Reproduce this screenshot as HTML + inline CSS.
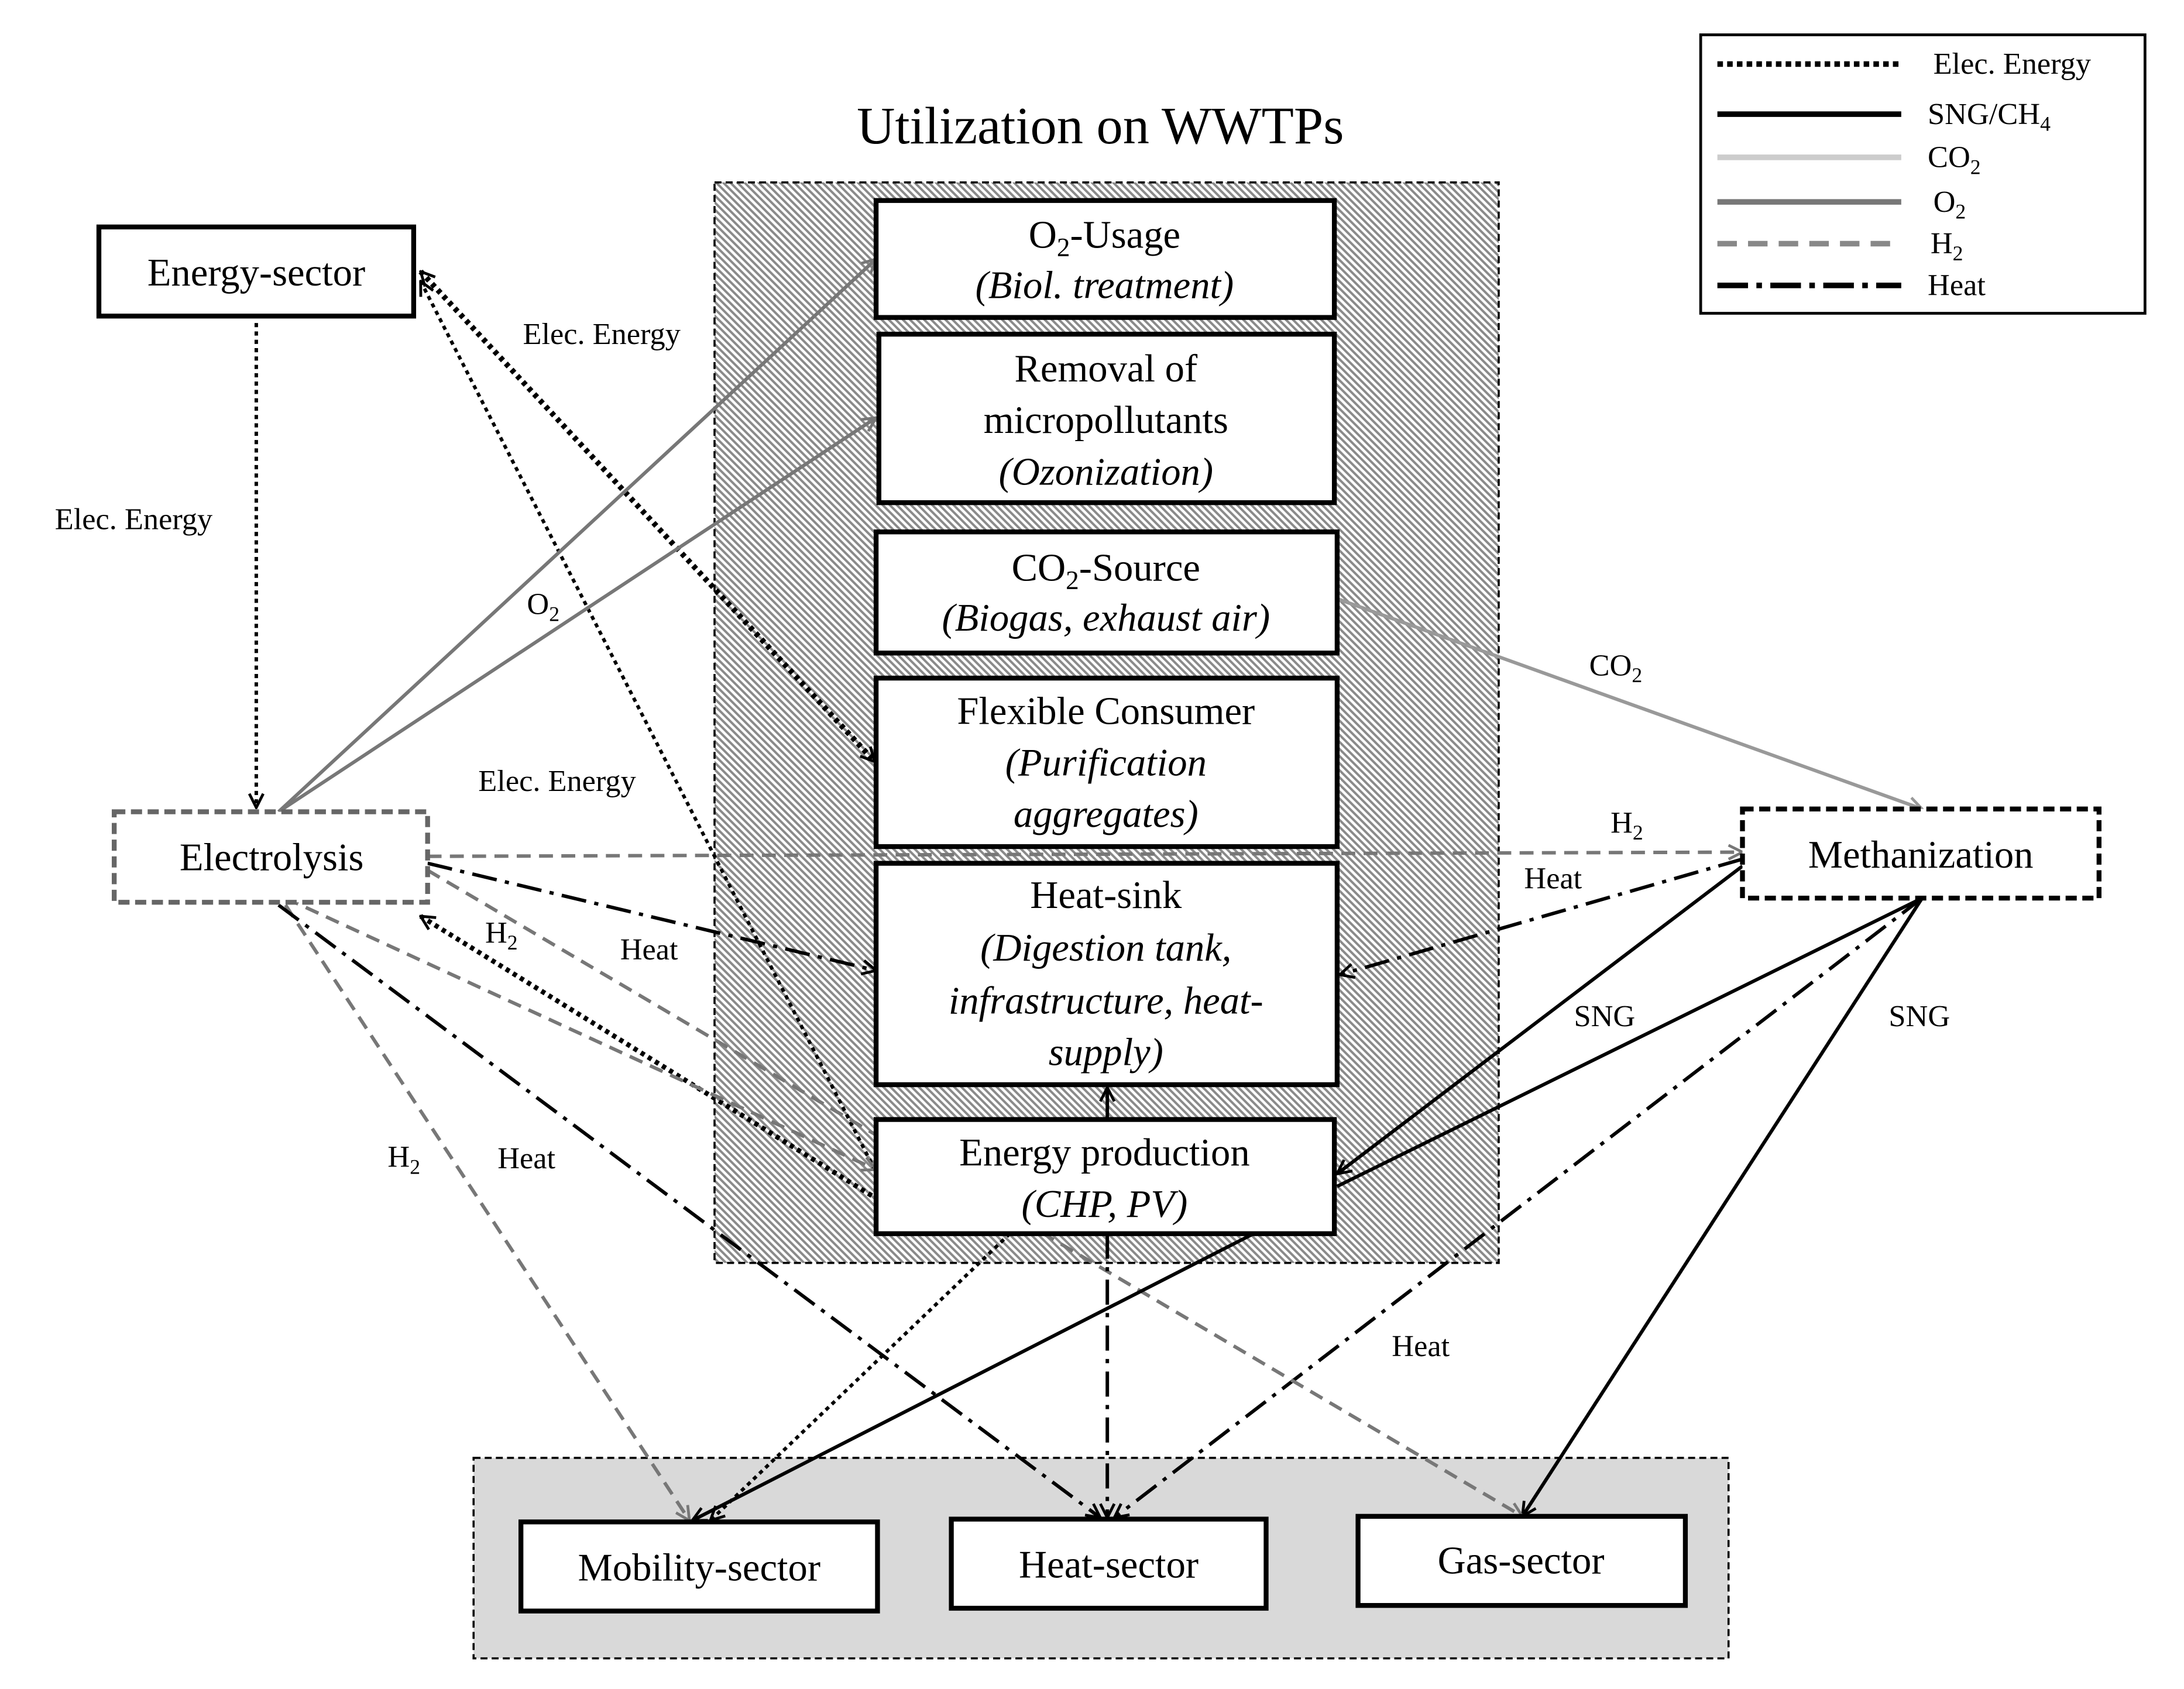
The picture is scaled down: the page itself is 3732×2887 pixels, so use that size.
<!DOCTYPE html>
<html><head><meta charset="utf-8"><style>html,body{margin:0;padding:0;background:#fff}svg{display:block}</style></head><body>
<svg width="3732" height="2887" viewBox="0 0 1568 1213" preserveAspectRatio="none" xmlns="http://www.w3.org/2000/svg" font-family="'Liberation Serif', serif">
<defs>
<pattern id="h" width="3.6" height="3.6" patternUnits="userSpaceOnUse" patternTransform="rotate(-45)">
<rect width="3.6" height="3.6" fill="#fff"/><rect width="1.7" height="3.6" fill="#8a8a8a"/></pattern>
<marker id="ab" viewBox="0 0 12 12" refX="11" refY="6" markerWidth="12" markerHeight="12" markerUnits="userSpaceOnUse" orient="auto-start-reverse"><path d="M1,1 L11,6 L1,11" fill="none" stroke="#000" stroke-width="2"/></marker>
<marker id="ag" viewBox="0 0 12 12" refX="11" refY="6" markerWidth="12" markerHeight="12" markerUnits="userSpaceOnUse" orient="auto-start-reverse"><path d="M1,1 L11,6 L1,11" fill="none" stroke="#777" stroke-width="2"/></marker>
<marker id="al" viewBox="0 0 12 12" refX="11" refY="6" markerWidth="12" markerHeight="12" markerUnits="userSpaceOnUse" orient="auto-start-reverse"><path d="M1,1 L11,6 L1,11" fill="none" stroke="#999" stroke-width="2"/></marker>
</defs>

<text x="790" y="103" font-size="38" text-anchor="middle">Utilization on WWTPs</text>
<rect x="513" y="131" width="563" height="776" fill="url(#h)" stroke="#000" stroke-width="1.5" stroke-dasharray="5,3"/>
<rect x="340" y="1047" width="901" height="144" fill="#d9d9d9" stroke="#000" stroke-width="1.5" stroke-dasharray="5,3"/>

<!-- connectors -->
<g fill="none" stroke-width="2.5">
<line x1="184" y1="232" x2="184" y2="580" stroke="#000" stroke-dasharray="3,3" marker-end="url(#ab)"/>
<line x1="302" y1="195" x2="628" y2="547" stroke="#000" stroke-width="4" stroke-dasharray="3,3" marker-start="url(#ab)" marker-end="url(#ab)"/>
<line x1="302" y1="202" x2="628" y2="840" stroke="#000" stroke-dasharray="3,3" marker-start="url(#ab)"/>
<line x1="302" y1="658" x2="628" y2="860" stroke="#000" stroke-width="3.5" stroke-dasharray="3,3" marker-start="url(#ab)"/>
<line x1="200" y1="583" x2="629" y2="186" stroke="#777" marker-end="url(#ag)"/>
<line x1="200" y1="583" x2="629" y2="300" stroke="#777" marker-end="url(#ag)"/>
<line x1="960" y1="430" x2="1380" y2="581" stroke="#999" marker-end="url(#al)"/>
<line x1="307" y1="615" x2="1251" y2="612" stroke="#777" stroke-dasharray="10,6" marker-end="url(#ag)"/>
<line x1="307" y1="620" x2="629" y2="697" stroke="#000" stroke-dasharray="18,6,3,6" marker-end="url(#ab)"/>
<line x1="1251" y1="617" x2="962" y2="700" stroke="#000" stroke-dasharray="18,6,3,6" marker-end="url(#ab)"/>
<line x1="1251" y1="622" x2="960" y2="843" stroke="#000" marker-end="url(#ab)"/>
<line x1="960" y1="852" x2="1380" y2="645" stroke="#000"/>
<line x1="1380" y1="645" x2="1093" y2="1089" stroke="#000" marker-end="url(#ab)"/>
<line x1="1380" y1="645" x2="800" y2="1090" stroke="#000" stroke-dasharray="18,6,3,6" marker-end="url(#ab)"/>
<line x1="205" y1="645" x2="629" y2="840" stroke="#777" stroke-dasharray="10,6" marker-end="url(#ag)"/>
<line x1="307" y1="625" x2="1093" y2="1089" stroke="#777" stroke-dasharray="10,6" marker-end="url(#ag)"/>
<line x1="205" y1="650" x2="495" y2="1092" stroke="#777" stroke-dasharray="10,6" marker-end="url(#ag)"/>
<line x1="200" y1="650" x2="790" y2="1090" stroke="#000" stroke-dasharray="18,6,3,6" marker-end="url(#ab)"/>
<line x1="795" y1="886" x2="795" y2="1090" stroke="#000" stroke-dasharray="18,6,3,6" marker-end="url(#ab)"/>
<line x1="795" y1="804" x2="795" y2="781" stroke="#000" marker-end="url(#ab)"/>
<line x1="900" y1="886" x2="497" y2="1092" stroke="#000" marker-end="url(#ab)"/>
<line x1="725" y1="886" x2="510" y2="1092" stroke="#000" stroke-dasharray="3,3" marker-end="url(#ab)"/>
</g>

<!-- boxes -->
<g fill="#fff" stroke="#000" stroke-width="3.5">
<rect x="629" y="144" width="329" height="84"/>
<rect x="631" y="240" width="327" height="121"/>
<rect x="629" y="382" width="331" height="87"/>
<rect x="629" y="487" width="331" height="121"/>
<rect x="629" y="620" width="331" height="159"/>
<rect x="629" y="804" width="329" height="82"/>
<rect x="71" y="163" width="226" height="64"/>
<rect x="82" y="583" width="225" height="65" stroke="#666" stroke-dasharray="8,4"/>
<rect x="1251" y="581" width="256" height="64" stroke-dasharray="8,4"/>
<rect x="374" y="1093" width="256" height="64"/>
<rect x="683" y="1091" width="226" height="64"/>
<rect x="975" y="1089" width="235" height="64"/>
<rect x="1221" y="25" width="319" height="200" stroke-width="2"/>
</g>

<g font-size="28" text-anchor="middle">
<text x="793" y="178">O<tspan font-size="19" dy="6">2</tspan><tspan dy="-6">-Usage</tspan></text>
<text x="793" y="214" font-style="italic">(Biol. treatment)</text>
<text x="794" y="274">Removal of</text>
<text x="794" y="311">micropollutants</text>
<text x="794" y="348" font-style="italic">(Ozonization)</text>
<text x="794" y="417">CO<tspan font-size="19" dy="6">2</tspan><tspan dy="-6">-Source</tspan></text>
<text x="794" y="453" font-style="italic">(Biogas, exhaust air)</text>
<text x="794" y="520">Flexible Consumer</text>
<text x="794" y="557" font-style="italic">(Purification</text>
<text x="794" y="594" font-style="italic">aggregates)</text>
<text x="794" y="652">Heat-sink</text>
<text x="794" y="690" font-style="italic">(Digestion tank,</text>
<text x="794" y="728" font-style="italic">infrastructure, heat-</text>
<text x="794" y="765" font-style="italic">supply)</text>
<text x="793" y="837">Energy production</text>
<text x="793" y="874" font-style="italic">(CHP, PV)</text>
<text x="184" y="205">Energy-sector</text>
<text x="195" y="625">Electrolysis</text>
<text x="1379" y="623">Methanization</text>
<text x="502" y="1135">Mobility-sector</text>
<text x="796" y="1133">Heat-sector</text>
<text x="1092" y="1130">Gas-sector</text>
</g>

<g font-size="22" text-anchor="middle">
<text x="96" y="380">Elec. Energy</text>
<text x="432" y="247">Elec. Energy</text>
<text x="400" y="568">Elec. Energy</text>
<text x="390" y="441">O<tspan font-size="15" dy="5">2</tspan></text>
<text x="1160" y="485">CO<tspan font-size="15" dy="5">2</tspan></text>
<text x="1168" y="598">H<tspan font-size="15" dy="5">2</tspan></text>
<text x="1115" y="638">Heat</text>
<text x="466" y="689">Heat</text>
<text x="360" y="677">H<tspan font-size="15" dy="5">2</tspan></text>
<text x="1152" y="737">SNG</text>
<text x="1378" y="737">SNG</text>
<text x="290" y="838">H<tspan font-size="15" dy="5">2</tspan></text>
<text x="378" y="839">Heat</text>
<text x="1020" y="974">Heat</text>
</g>

<!-- legend -->
<g stroke-width="4" fill="none">
<line x1="1233" y1="46" x2="1365" y2="46" stroke="#000" stroke-dasharray="4,3"/>
<line x1="1233" y1="82" x2="1365" y2="82" stroke="#000"/>
<line x1="1233" y1="113" x2="1365" y2="113" stroke="#ccc"/>
<line x1="1233" y1="145" x2="1365" y2="145" stroke="#777"/>
<line x1="1233" y1="175" x2="1365" y2="175" stroke="#888" stroke-dasharray="14,8"/>
<line x1="1233" y1="205" x2="1365" y2="205" stroke="#000" stroke-dasharray="22,6,4,6"/>
</g>
<g font-size="22">
<text x="1388" y="53">Elec. Energy</text>
<text x="1384" y="89">SNG/CH<tspan font-size="15" dy="5">4</tspan></text>
<text x="1384" y="120">CO<tspan font-size="15" dy="5">2</tspan></text>
<text x="1388" y="152">O<tspan font-size="15" dy="5">2</tspan></text>
<text x="1386" y="182">H<tspan font-size="15" dy="5">2</tspan></text>
<text x="1384" y="212">Heat</text>
</g>
</svg>
</body></html>
